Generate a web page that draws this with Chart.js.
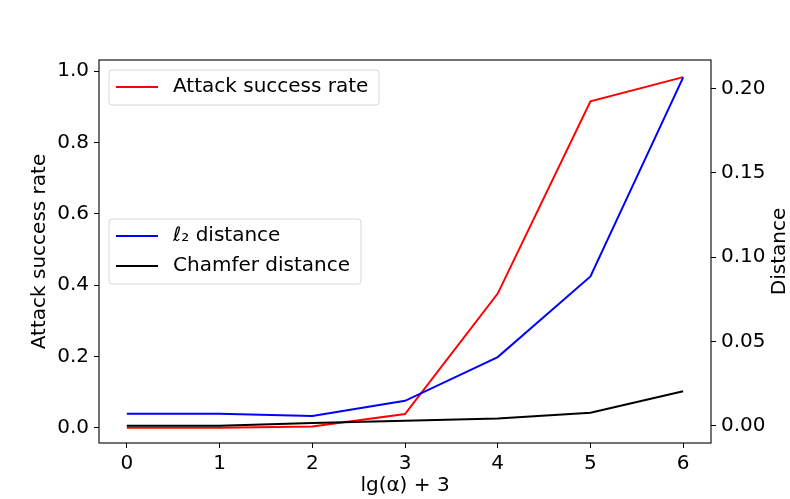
<!DOCTYPE html>
<html>
<head>
<meta charset="utf-8">
<script src="https://cdn.jsdelivr.net/npm/chart.js@4/dist/chart.umd.min.js"></script>
<style>
  html, body { margin: 0; padding: 0; background: #fff; }
  #wrap { width: 790px; height: 499px; }
</style>
</head>
<body>
<div id="wrap"><canvas id="chart" width="790" height="499"></canvas></div>
<script>
// values
const xValues = [0, 1, 2, 3, 4, 5, 6];
const attackRate = [0.0, 0.0, 0.003, 0.038, 0.376, 0.915, 0.983];
const l2Distance = [0.0072, 0.0072, 0.0058, 0.0148, 0.0407, 0.0885, 0.2065];
const chamferDistance = [0.0, 0.0, 0.0016, 0.003, 0.0043, 0.0077, 0.0205];
const xTicks = [0, 1, 2, 3, 4, 5, 6];
const leftTicks = [0, 0.2, 0.4, 0.6, 0.8, 1.0];
const rightTicks = [0, 0.05, 0.10, 0.15, 0.20];

const xTitle = 'lg(α) + 3';
const leftTitle = 'Attack success rate';
const rightTitle = 'Distance';

const FONT = 'DejaVu Sans';
const FS = 20;

function points(ys) {
    return xValues.map((x, i) => ({x: x, y: ys[i]}));
}

// matplotlib-style frame, legends and right axis label
const extras = {
    id: 'extras',
    afterDraw(chart) {
        const ctx = chart.ctx;
        const a = chart.chartArea;
        ctx.save();
        ctx.strokeStyle = '#000';
        ctx.lineWidth = 1.1;
        ctx.strokeRect(a.left, a.top, a.right - a.left, a.bottom - a.top);

        function legend(items, x, y, w) {
            const rowH = 30;
            const h = items.length * rowH + 5;
            ctx.save();
            ctx.fillStyle = 'rgba(255,255,255,0.8)';
            ctx.strokeStyle = '#d6d6d6';
            ctx.lineWidth = 1;
            ctx.beginPath();
            ctx.roundRect(x, y, w, h, 3);
            ctx.fill();
            ctx.stroke();
            ctx.font = FS + 'px "' + FONT + '"';
            ctx.textBaseline = 'middle';
            ctx.fillStyle = '#000';
            items.forEach((ds, i) => {
                const cy = y + 17 + i * rowH;
                ctx.strokeStyle = ds.borderColor;
                ctx.lineWidth = 2;
                ctx.beginPath();
                ctx.moveTo(x + 7, cy);
                ctx.lineTo(x + 49, cy);
                ctx.stroke();
                ctx.fillText(ds.label, x + 64, cy);
            });
            ctx.restore();
        }
        const ds = chart.data.datasets;
        legend([ds[0]], a.left + 10, a.top + 10, 270);
        const h2 = 2 * 30 + 5;
        legend([ds[1], ds[2]], a.left + 10, (a.top + a.bottom) / 2 - h2 / 2, 252);

        ctx.translate(780, (a.top + a.bottom) / 2);
        ctx.rotate(-Math.PI / 2);
        ctx.font = FS + 'px "' + FONT + '"';
        ctx.fillStyle = '#000';
        ctx.textAlign = 'center';
        ctx.textBaseline = 'middle';
        ctx.fillText(rightTitle, 0, 0);
        ctx.restore();
    }
};

const ctx = document.getElementById('chart').getContext('2d');
const myChart = new Chart(ctx, {
    type: 'line',
    data: {
        datasets: [{
            label: 'Attack success rate',
            data: points(attackRate),
            borderColor: '#ff0000',
            yAxisID: 'y',
            order: 2
        }, {
            label: 'ℓ₂ distance',
            data: points(l2Distance),
            borderColor: '#0000ff',
            yAxisID: 'y2',
            order: 1
        }, {
            label: 'Chamfer distance',
            data: points(chamferDistance),
            borderColor: '#000000',
            yAxisID: 'y2',
            order: 0
        }]
    },
    options: {
        responsive: false,
        animation: false,
        devicePixelRatio: 1,
        layout: { padding: { top: 60, left: 0, right: 0, bottom: 0 } },
        elements: {
            point: { radius: 0, hoverRadius: 0 },
            line: { borderWidth: 2, tension: 0 }
        },
        plugins: {
            legend: { display: false },
            tooltip: { enabled: false }
        },
        scales: {
            x: {
                type: 'linear',
                min: -0.3,
                max: 6.3,
                afterBuildTicks: (s) => { s.ticks = xTicks.map(v => ({value: v})); },
                afterFit: (s) => { s.height = 56; },
                ticks: {
                    color: '#000',
                    font: { family: FONT, size: FS },
                    padding: 4,
                    maxRotation: 0,
                    callback: (v) => String(v)
                },
                grid: { drawOnChartArea: false, color: '#000', tickLength: 5, tickWidth: 1 },
                border: { display: false },
                title: {
                    display: true,
                    text: xTitle,
                    color: '#000',
                    font: { family: FONT, size: FS },
                    padding: { top: 0, bottom: 1 }
                }
            },
            y: {
                position: 'left',
                min: -0.043,
                max: 1.031,
                afterBuildTicks: (s) => { s.ticks = leftTicks.map(v => ({value: v})); },
                afterFit: (s) => { s.width = 99; },
                ticks: {
                    color: '#000',
                    font: { family: FONT, size: FS },
                    padding: 5,
                    callback: (v) => v.toFixed(1)
                },
                grid: { drawOnChartArea: false, color: '#000', tickLength: 5, tickWidth: 1 },
                border: { display: false },
                title: {
                    display: true,
                    text: leftTitle,
                    color: '#000',
                    font: { family: FONT, size: FS },
                    padding: { top: 28, bottom: 0 }
                }
            },
            y2: {
                position: 'right',
                min: -0.0102,
                max: 0.2168,
                afterBuildTicks: (s) => { s.ticks = rightTicks.map(v => ({value: v})); },
                afterFit: (s) => { s.width = 79; },
                ticks: {
                    color: '#000',
                    font: { family: FONT, size: FS },
                    padding: 5,
                    callback: (v) => v.toFixed(2)
                },
                grid: { drawOnChartArea: false, color: '#000', tickLength: 5, tickWidth: 1 },
                border: { display: false }
            }
        }
    },
    plugins: [extras]
});
</script>
</body>
</html>
